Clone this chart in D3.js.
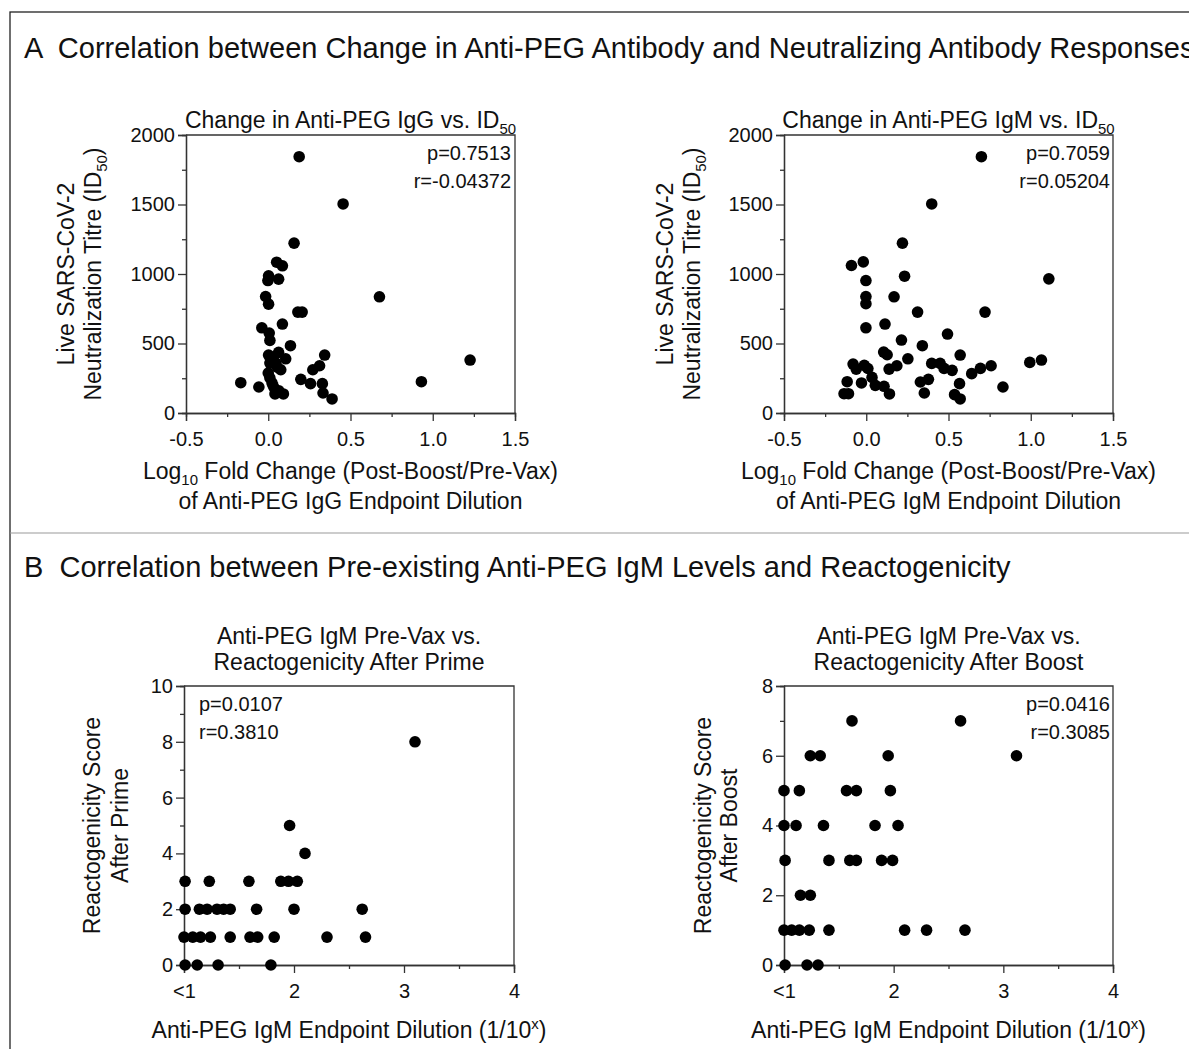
<!DOCTYPE html>
<html>
<head>
<meta charset="utf-8">
<script src="https://cdn.jsdelivr.net/npm/d3@7"></script>
<style>
  body { margin: 0; background: #fff; }
  svg text { font-family: "Liberation Sans", Arial, sans-serif; fill: #111; }
</style>
</head>
<body>
<svg id="fig" width="1189" height="1049"></svg>
<script>
// panel A1: log10 fold change of anti-PEG IgG vs ID50
var iggChange = [0.188, 0.455, 0.157, 0.051, 0.086, 0.002, -0.002, 0.063, 0.676, -0.016, 0.002, 0.180, 0.206, 0.086, -0.039, 0.006, 0.010, 0.135, 0.002, 0.063, 0.343, 1.227, 0.106, 0.010, 0.045, 0.312, 0.271, 0.076, 0.000, 0.010, 0.198, -0.167, 0.257, 0.329, 0.931, -0.057, 0.031, 0.045, 0.092, 0.333, 0.388, 0.023, 0.041, 0.055, 0.030, 0.065];
var iggId50   = [1844, 1504, 1222, 1085, 1059, 987, 953, 963, 836, 838, 783, 726, 726, 640, 613, 575, 522, 484, 417, 436, 417, 381, 390, 359, 360, 340, 311, 311, 287, 252, 242, 218, 211, 211, 225, 187, 192, 144, 137, 144, 101, 216, 137, 330, 400, 160];

// panel A2: log10 fold change of anti-PEG IgM vs ID50
var igmChange = [0.700, 0.398, 0.220, -0.090, -0.018, 0.233, 1.110, -0.002, -0.002, -0.002, 0.169, 0.312, 0.722, -0.002, 0.114, 0.494, 0.214, 0.341, 0.106, 0.127, 0.571, 0.253, 0.994, 1.065, -0.080, -0.061, -0.012, 0.010, 0.139, 0.186, 0.398, 0.449, 0.473, 0.522, 0.641, 0.694, 0.759, -0.116, -0.029, 0.035, 0.055, 0.108, 0.329, 0.378, 0.567, 0.831, -0.135, -0.108, 0.141, 0.353, 0.537, 0.571];
var igmId50   = [1844, 1504, 1222, 1061, 1087, 984, 965, 953, 838, 786, 836, 726, 726, 613, 640, 568, 525, 484, 438, 419, 417, 390, 364, 381, 352, 316, 343, 320, 316, 340, 357, 357, 321, 307, 283, 321, 340, 225, 216, 256, 199, 192, 223, 242, 211, 187, 139, 139, 137, 144, 132, 101];

// panel B1: pre-vax IgM dilution vs reactogenicity after prime
var primeDil   = [1.01, 1.23, 1.59, 1.88, 1.95, 2.03, 1.96, 2.10, 3.10, 1.01, 1.14, 1.21, 1.30, 1.36, 1.42, 1.66, 2.00, 2.62, 1.00, 1.08, 1.15, 1.24, 1.42, 1.60, 1.67, 1.82, 2.30, 2.65, 1.01, 1.12, 1.31, 1.79];
var primeScore = [3, 3, 3, 3, 3, 3, 5, 4, 8, 2, 2, 2, 2, 2, 2, 2, 2, 2, 1, 1, 1, 1, 1, 1, 1, 1, 1, 1, 0, 0, 0, 0];

// panel B2: pre-vax IgM dilution vs reactogenicity after boost
var boostDil   = [1.62, 2.61, 1.24, 1.33, 1.95, 3.12, 1.00, 1.14, 1.57, 1.66, 1.97, 1.00, 1.11, 1.36, 1.83, 2.04, 1.01, 1.41, 1.60, 1.66, 1.89, 1.99, 1.15, 1.24, 1.00, 1.07, 1.14, 1.23, 1.41, 2.10, 2.30, 2.65, 1.01, 1.21, 1.31];
var boostScore = [7, 7, 6, 6, 6, 6, 5, 5, 5, 5, 5, 4, 4, 4, 4, 4, 3, 3, 3, 3, 3, 3, 2, 2, 1, 1, 1, 1, 1, 1, 1, 1, 0, 0, 0];

var svg = d3.select('#fig');
var TICK_FS = 20,
    LABEL_FS = 23;

// outer frame and divider
svg.append('rect').attr('x', 10).attr('y', 12).attr('width', 1200).attr('height', 1060)
  .attr('fill', 'none').attr('stroke', '#222').attr('stroke-width', 1.3);
svg.append('line').attr('x1', 10).attr('x2', 1189).attr('y1', 533).attr('y2', 533)
  .attr('stroke', '#999').attr('stroke-width', 1.2);

svg.append('text').attr('x', 24).attr('y', 58).attr('font-size', 29)
  .style('white-space', 'pre')
  .text('A  Correlation between Change in Anti-PEG Antibody and Neutralizing Antibody Responses');
svg.append('text').attr('x', 24).attr('y', 577).attr('font-size', 29)
  .style('white-space', 'pre')
  .text('B  Correlation between Pre-existing Anti-PEG IgM Levels and Reactogenicity');

// text from parts: plain strings, {sub: ..} or {sup: ..}
function richText(g, parts, attrs) {
  var t = g.append('text').attr('font-size', LABEL_FS);
  Object.keys(attrs).forEach(function(k) { t.attr(k, attrs[k]); });
  var shift = 0;
  parts.forEach(function(p) {
    if(typeof p === 'string') {
      t.append('tspan').attr('dy', -shift).text(p);
      shift = 0;
    } else {
      var s = p.sub ? 6 : -9;
      t.append('tspan').attr('font-size', LABEL_FS * 0.65).attr('dy', s - shift)
        .text(p.sub || p.sup);
      shift = s;
    }
  });
  return t;
}

function panel(cfg) {
  var g = svg.append('g');
  var x = d3.scaleLinear().domain(cfg.xDomain).range([cfg.left, cfg.right]);
  var y = d3.scaleLinear().domain(cfg.yDomain).range([cfg.bottom, cfg.top]);

  // frame top/right
  g.append('path')
    .attr('d', 'M' + cfg.left + ',' + cfg.top + 'H' + cfg.right + 'V' + cfg.bottom)
    .attr('fill', 'none').attr('stroke', '#333').attr('stroke-width', 1.3);

  var xAxis = d3.axisBottom(x).tickValues(cfg.xTicks).tickSize(8).tickPadding(11)
    .tickFormat(cfg.xFormat);
  var xMinor = d3.axisBottom(x).tickValues(cfg.xMinor).tickSize(4).tickFormat('');
  var yAxis = d3.axisLeft(y).tickValues(cfg.yTicks).tickSize(8).tickPadding(3)
    .tickFormat(d3.format('d'));
  var yMinor = d3.axisLeft(y).tickValues(cfg.yMinor).tickSize(4).tickFormat('');

  [[xAxis, 'x'], [xMinor, 'x'], [yAxis, 'y'], [yMinor, 'y']].forEach(function(a) {
    var ag = g.append('g')
      .attr('transform', a[1] === 'x' ? 'translate(0,' + cfg.bottom + ')' : 'translate(' + cfg.left + ',0)')
      .call(a[0]);
    ag.selectAll('path, line').attr('stroke', '#333').attr('stroke-width', 1.3);
    ag.selectAll('text').attr('font-size', TICK_FS).attr('fill', '#111')
      .style('font-family', '"Liberation Sans", Arial, sans-serif');
  });

  g.selectAll('circle.dot')
    .data(cfg.xs.map(function(v, i) { return [v, cfg.ys[i]]; }))
    .enter().append('circle')
    .attr('class', 'dot')
    .attr('cx', function(d) { return x(d[0]); })
    .attr('cy', function(d) { return y(d[1]); })
    .attr('r', 5.8)
    .attr('fill', '#000');

  var cx = (cfg.left + cfg.right) / 2;
  cfg.title.forEach(function(line, i) {
    richText(g, line, { x: cx, y: cfg.titleY + i * 26, 'text-anchor': 'middle' });
  });
  cfg.xLabel.forEach(function(line, i) {
    richText(g, line, { x: cx, y: cfg.xLabelY + i * 30, 'text-anchor': 'middle' });
  });
  var cy = (cfg.top + cfg.bottom) / 2;
  cfg.yLabel.forEach(function(line, i) {
    richText(g, line, {
      'text-anchor': 'middle',
      transform: 'translate(' + cfg.yLabelX[i] + ',' + cy + ') rotate(-90)'
    });
  });
  cfg.stats.forEach(function(s, i) {
    g.append('text').attr('font-size', TICK_FS)
      .attr('x', cfg.statsX).attr('y', cfg.top + 25 + i * 28)
      .attr('text-anchor', cfg.statsAnchor)
      .text(s);
  });
}

var fmtA = d3.format('.1f');
var aX = { xDomain: [-0.5, 1.5], xTicks: [-0.5, 0, 0.5, 1, 1.5], xMinor: [-0.25, 0.25, 0.75, 1.25],
  xFormat: function(d) { return fmtA(d).replace('\u2212', '-'); },
  yDomain: [0, 2000], yTicks: [0, 500, 1000, 1500, 2000],
  yMinor: [250, 750, 1250, 1750], top: 135, bottom: 413, titleY: 128, xLabelY: 479 };
var bX = { xDomain: [1, 4], xTicks: [1, 2, 3, 4], xMinor: [1.5, 2.5, 3.5],
  xFormat: function(d) { return d === 1 ? '<1' : d; }, top: 686, bottom: 965,
  titleY: 644, xLabelY: 1038 };

var yLabA = [['Live SARS-CoV-2'], ['Neutralization Titre (ID', { sub: '50' }, ')']];

panel(Object.assign({}, aX, {
  left: 186, right: 515, xs: iggChange, ys: iggId50,
  title: [['Change in Anti-PEG IgG vs. ID', { sub: '50' }]],
  xLabel: [['Log', { sub: '10' }, ' Fold Change (Post-Boost/Pre-Vax)'], ['of Anti-PEG IgG Endpoint Dilution']],
  yLabel: yLabA, yLabelX: [74, 101], stats: ['p=0.7513', 'r=-0.04372'], statsX: 511, statsAnchor: 'end'
}));
panel(Object.assign({}, aX, {
  left: 784, right: 1113, xs: igmChange, ys: igmId50,
  title: [['Change in Anti-PEG IgM vs. ID', { sub: '50' }]],
  xLabel: [['Log', { sub: '10' }, ' Fold Change (Post-Boost/Pre-Vax)'], ['of Anti-PEG IgM Endpoint Dilution']],
  yLabel: yLabA, yLabelX: [673, 700], stats: ['p=0.7059', 'r=0.05204'], statsX: 1110, statsAnchor: 'end'
}));
panel(Object.assign({}, bX, {
  left: 184, right: 514, xs: primeDil, ys: primeScore,
  yDomain: [0, 10], yTicks: [0, 2, 4, 6, 8, 10], yMinor: [1, 3, 5, 7, 9],
  title: [['Anti-PEG IgM Pre-Vax vs.'], ['Reactogenicity After Prime']],
  xLabel: [['Anti-PEG IgM Endpoint Dilution (1/10', { sup: 'x' }, ')']],
  yLabel: [['Reactogenicity Score'], ['After Prime']], yLabelX: [100, 128],
  stats: ['p=0.0107', 'r=0.3810'], statsX: 199, statsAnchor: 'start'
}));
panel(Object.assign({}, bX, {
  left: 784, right: 1113, xs: boostDil, ys: boostScore,
  yDomain: [0, 8], yTicks: [0, 2, 4, 6, 8], yMinor: [1, 3, 5, 7],
  title: [['Anti-PEG IgM Pre-Vax vs.'], ['Reactogenicity After Boost']],
  xLabel: [['Anti-PEG IgM Endpoint Dilution (1/10', { sup: 'x' }, ')']],
  yLabel: [['Reactogenicity Score'], ['After Boost']], yLabelX: [711, 737],
  stats: ['p=0.0416', 'r=0.3085'], statsX: 1110, statsAnchor: 'end'
}));
</script>
</body>
</html>
